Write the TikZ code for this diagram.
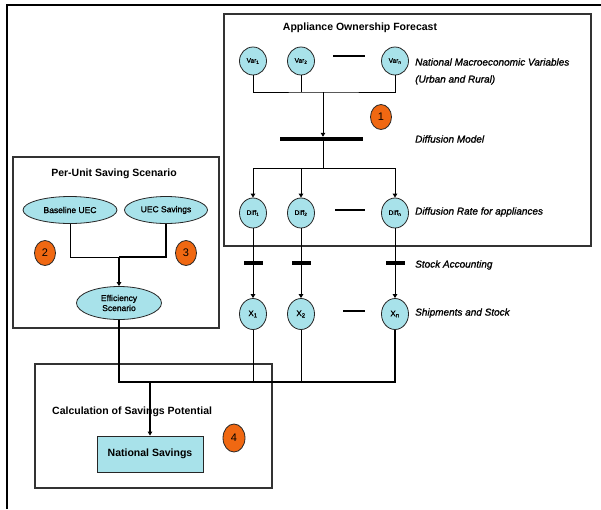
\documentclass[tikz,border=0pt]{standalone}
\usepackage{fontspec}
\setmainfont{Liberation Sans}
\newfontfamily\labfont[FakeBold=1.2]{Liberation Sans}
\usetikzlibrary{arrows.meta,shapes.geometric}
\definecolor{cyanfill}{RGB}{168,226,234}
\definecolor{orangefill}{RGB}{240,104,18}
\tikzset{
  panel/.style={draw=black!80, line width=1.1pt, fill=white, inner sep=0pt},
  varc/.style={ellipse, draw=black!85, line width=0.8pt, fill=cyanfill, inner sep=0pt,
    minimum width=27pt, minimum height=28pt, font=\labfont\fontsize{6.5}{7}\selectfont},
  ovalnode/.style={ellipse, draw=black!85, line width=0.8pt, fill=cyanfill, inner sep=1pt,
    font=\labfont\fontsize{8.5}{9.5}\selectfont, align=center},
  numc/.style={ellipse, draw=black!85, line width=0.8pt, fill=orangefill, inner sep=0pt,
    minimum width=21pt, minimum height=25pt, font=\fontsize{11}{12}\selectfont},
  lab/.style={anchor=west, inner sep=0pt, font=\labfont\fontsize{10}{11}\selectfont\itshape},
  ttl/.style={inner sep=0pt, font=\fontsize{10.5}{12}\selectfont\bfseries},
  conn/.style={draw=black, line width=1pt},
  tip/.style={-{Triangle[length=4pt,width=4.5pt]}},
  sbar/.style={fill=black, inner sep=0pt, minimum height=4pt},
}
\begin{document}
\begin{tikzpicture}[x=1pt,y=-1pt]
\useasboundingbox (0,0) rectangle (601,509);
% outer frame
\draw[line width=1.8pt] (7,509) -- (7,5) -- (601,5);

% panels
\node[panel, minimum width=367pt, minimum height=232pt] (aof) at (407.5,130) {};
\node[panel, minimum width=206pt, minimum height=171pt] (pus) at (116,242.5) {};
\node[panel, minimum width=237pt, minimum height=124pt] (csp) at (153.5,426) {};

% titles
\node[ttl] (t1) at (360,28) {Appliance Ownership Forecast};
\node[ttl] (t2) at (114,174) {Per-Unit Saving Scenario};
\node[ttl, anchor=west] (t3) at (52,412) {Calculation of Savings Potential};

% Var nodes
\node[varc] (v1) at (253,61) {Var\textsubscript{1}};
\node[varc] (v2) at (301,61) {Var\textsubscript{2}};
\node[varc] (vn) at (395,61) {Var\textsubscript{n}};
\draw[line width=1.2pt] (333,56) -- (365,56);

% diffusion model bar
\node[sbar, minimum width=83pt] (dm) at (321.5,139) {};
\coordinate (vj) at (323,92);
\coordinate (dj) at (323,168);

% Diff nodes
\node[varc, minimum height=30pt] (d1) at (253,213) {Diff\textsubscript{1}};
\node[varc, minimum height=30pt] (d2) at (301,213) {Diff\textsubscript{2}};
\node[varc, minimum height=30pt] (dn) at (395,213) {Diff\textsubscript{n}};
\draw[line width=1.2pt] (335,210) -- (365,210);

% stock accounting bars
\node[sbar, minimum width=19pt] (s1) at (253,263) {};
\node[sbar, minimum width=19pt] (s2) at (301,263) {};
\node[sbar, minimum width=19pt] (sn) at (395,263) {};

% X nodes
\node[varc, minimum height=31pt, font=\labfont\fontsize{8}{9}\selectfont] (x1) at (253,314) {X\textsubscript{1}};
\node[varc, minimum height=31pt, font=\labfont\fontsize{8}{9}\selectfont] (x2) at (301,314) {X\textsubscript{2}};
\node[varc, minimum height=31pt, font=\labfont\fontsize{8}{9}\selectfont] (xn) at (395,314) {X\textsubscript{n}};
\draw[line width=1.2pt] (343,311) -- (365,311);

% labels
\node[lab] (l1) at (415,62) {National Macroeconomic Variables};
\node[lab] (l2) at (415,80) {(Urban and Rural)};
\node[lab] (l3) at (415,139) {Diffusion Model};
\node[lab] (l4) at (415,212) {Diffusion Rate for appliances};
\node[lab] (l5) at (415,265) {Stock Accounting};
\node[lab] (l6) at (415,313) {Shipments and Stock};

% per-unit nodes
\node[ovalnode, minimum width=94pt, minimum height=27pt] (bu) at (70,210) {Baseline UEC};
\node[ovalnode, minimum width=83pt, minimum height=27pt] (us) at (166,210) {UEC Savings};
\node[ovalnode, minimum width=85pt, minimum height=33pt, font=\labfont\fontsize{8.5}{10}\selectfont] (es) at (119,303) {Efficiency\\Scenario};
\coordinate (ej) at (119,257);

% national savings
\node[draw=black!85, line width=0.9pt, fill=cyanfill, minimum width=106pt, minimum height=36pt,
  font=\fontsize{10.5}{12}\selectfont\bfseries, inner sep=0pt] (ns) at (150,454) {National Savings};
\coordinate (bj) at (150,382);

% number badges
\node[numc] (n1) at (381,117) {1};
\node[numc] (n2) at (45,253) {2};
\node[numc] (n3) at (186,253) {3};
\node[numc, minimum width=22pt, minimum height=28pt] (n4) at (234,438) {4};

% connectors: Var -> diffusion model
\draw[conn] (v1.south) |- (vj) -| (vn.south);
\draw[conn] (v2.south) -- (v2.south |- vj);
\draw[conn, tip] (vj) -- (vj |- dm.north);
% diffusion model -> Diff
\draw[conn] (dj |- dm.south) -- (dj);
\draw[conn, tip] (dj) -| (d1.north);
\draw[conn, tip] (dj) -| (dn.north);
\draw[conn, tip] (d2.north |- dj) -- (d2.north);
% Diff -> X
\draw[conn, tip] (d1.south) -- (x1.north);
\draw[conn, tip] (d2.south) -- (x2.north);
\draw[conn, tip] (dn.south) -- (xn.north);
% per-unit
\draw[conn] (bu.south) |- (ej);
\draw[conn, line width=1.6pt] (us.south) |- (ej);
\draw[conn, line width=1.6pt, tip] (ej) -- (es.north);
% to national savings
\draw[conn, line width=1.6pt] (es.south) |- (xn.south |- bj) -- (xn.south);
\draw[conn] (x1.south) -- (x1.south |- bj);
\draw[conn] (x2.south) -- (x2.south |- bj);
\draw[conn, line width=1.4pt, tip] (bj) -- (ns.north);
\end{tikzpicture}
\end{document}
